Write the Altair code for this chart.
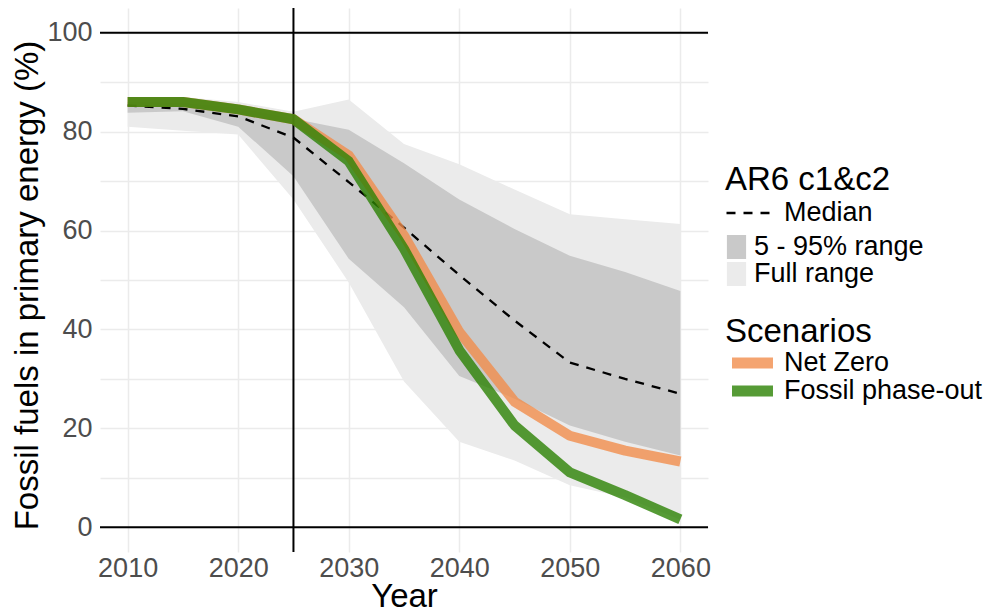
import altair as alt
import pandas as pd

# ---- data ----
years = [2010, 2015, 2020, 2025, 2030, 2035, 2040, 2045, 2050, 2055, 2060]
full_lo = [81.0, 80.2, 79.4, 66.3, 49.5, 29.5, 17.3, 13.5, 8.5, 6.0, 1.5]
full_hi = [87.0, 87.0, 86.0, 84.0, 86.5, 77.5, 73.4, 68.3, 63.3, 62.3, 61.3]
p5 = [83.8, 84.1, 81.0, 71.0, 54.3, 44.5, 30.6, 26.0, 20.6, 17.3, 14.5]
p95 = [86.0, 85.8, 84.8, 82.6, 80.4, 73.6, 66.3, 60.3, 54.9, 51.6, 47.8]
median = [85.3, 84.6, 83.1, 78.8, 69.8, 60.6, 51.0, 41.8, 33.3, 30.0, 27.0]
net_zero = [86.0, 86.0, 84.5, 82.5, 75.2, 59.0, 39.5, 25.4, 18.5, 15.5, 13.3]
phase_out = [86.0, 86.0, 84.5, 82.5, 74.0, 56.3, 35.8, 20.6, 11.1, 6.5, 1.6]
ref_levels = [0, 100]
ref_year = [2025]
x_ticks = [2010, 2020, 2030, 2040, 2050, 2060]
y_ticks = [0, 10, 20, 30, 40, 50, 60, 70, 80, 90, 100]

band_names = ["5 - 95% range", "Full range"]
band_colors = ["#C9C9C9", "#EBEBEB"]
scen_names = ["Net Zero", "Fossil phase-out"]
scen_colors = ["#F18D4C", "#2C8204"]

FONT = "Liberation Sans"

bands = pd.DataFrame({"year": years, "full_lo": full_lo, "full_hi": full_hi,
                      "p5": p5, "p95": p95, "median": median})
scen = pd.DataFrame({
    "year": years * 2,
    "value": net_zero + phase_out,
    "scenario": [scen_names[0]] * len(years) + [scen_names[1]] * len(years),
})
hl = pd.DataFrame({"level": ref_levels})
vl = pd.DataFrame({"year": ref_year})

xscale = alt.Scale(domain=[2007.5, 2062.5], nice=False, zero=False)
yscale = alt.Scale(domain=[-5, 105], nice=False, zero=False)

x_enc = alt.X("year:Q", scale=xscale, axis=alt.Axis(
    values=x_ticks, format="d", title="Year", grid=True, gridColor="#EBEBEB",
    gridWidth=1.5, ticks=False, domain=False, labelFontSize=27,
    labelColor="#4D4D4D", labelPadding=3, labelFont=FONT,
    titleFontSize=33, titleFontWeight="normal", titleColor="black",
    titleFont=FONT, titleY=54, titleBaseline="alphabetic"))

y_axis = alt.Axis(
    values=y_ticks, labelExpr="datum.value % 20 == 0 ? datum.label : ''",
    title="Fossil fuels in primary energy (%)", grid=True,
    gridColor="#EBEBEB", gridWidth=1.5, ticks=False, domain=False,
    labelFontSize=27, labelColor="#4D4D4D", labelPadding=8, labelFont=FONT,
    titleFontSize=33, titleFontWeight="normal", titleColor="black",
    titleFont=FONT, titleX=-63, titleY=277, titleAngle=270,
    titleBaseline="alphabetic", titleAlign="center")

fill_scale = alt.Scale(domain=band_names, range=band_colors)
fill_legend = alt.Legend(
    title=None, orient="none", legendX=623, legendY=225.5,
    direction="vertical", symbolType="M-0.8,-1L0.8,-1L0.8,1L-0.8,1Z",
    symbolSize=576, symbolStrokeWidth=0, labelFontSize=27, labelFont=FONT,
    labelColor="black", labelOffset=4, labelLimit=400, rowPadding=-3,
    padding=0)

base = alt.Chart(bands)

full_area = base.transform_calculate(band="'Full range'").mark_area(
    opacity=1).encode(
    x=x_enc,
    y=alt.Y("full_lo:Q", scale=yscale, axis=y_axis),
    y2="full_hi:Q",
    fill=alt.Fill("band:N", scale=fill_scale, legend=fill_legend),
)
pct_area = base.transform_calculate(band="'5 - 95% range'").mark_area(
    opacity=1).encode(
    x=alt.X("year:Q", scale=xscale),
    y=alt.Y("p5:Q", scale=yscale),
    y2="p95:Q",
    fill=alt.Fill("band:N", scale=fill_scale, legend=fill_legend),
)
band_layers = alt.layer(full_area, pct_area)

median_line = base.transform_calculate(series="'Median'").mark_line(
    color="black", strokeWidth=2.3).encode(
    x=alt.X("year:Q", scale=xscale),
    y=alt.Y("median:Q", scale=yscale),
    strokeDash=alt.StrokeDash(
        "series:N", scale=alt.Scale(domain=["Median"], range=[[9, 8]]),
        legend=alt.Legend(
            title="AR6 c1&c2", orient="none", legendX=625, legendY=156,
            direction="vertical", symbolType="stroke", symbolSize=2025,
            symbolStrokeWidth=2.3, symbolStrokeColor="black",
            labelFontSize=27, labelFont=FONT, labelColor="black",
            labelOffset=11, labelLimit=400, titleFontSize=33, titleFont=FONT,
            titleFontWeight="normal", titleColor="black", titlePadding=-8,
            padding=0)),
)

hlines = alt.Chart(hl).mark_rule(color="black", strokeWidth=2).encode(
    y=alt.Y("level:Q", scale=yscale))
vline = alt.Chart(vl).mark_rule(color="black", strokeWidth=2).encode(
    x=alt.X("year:Q", scale=xscale))

color_scale = alt.Scale(domain=scen_names, range=scen_colors)


def scen_layer(name):
    return alt.Chart(scen).transform_filter(
        alt.datum.scenario == name).mark_line(
        strokeWidth=10, opacity=0.8, strokeJoin="round").encode(
        x=alt.X("year:Q", scale=xscale),
        y=alt.Y("value:Q", scale=yscale),
        color=alt.Color("scenario:N", scale=color_scale, legend=None),
    )


# invisible points that carry the "Scenarios" key
scen_key = alt.Chart(scen).mark_point(filled=True, opacity=0).encode(
    x=alt.X("year:Q", scale=xscale),
    y=alt.Y("value:Q", scale=yscale),
    fill=alt.Fill("scenario:N",
                  scale=alt.Scale(domain=scen_names, range=scen_colors),
                  legend=alt.Legend(
                      title="Scenarios", orient="none", legendX=625,
                      legendY=307.6, direction="vertical",
                      symbolType="M-2,-0.536L2,-0.536L2,0.536L-2,0.536Z",
                      symbolSize=420, symbolStrokeWidth=0,
                      symbolOpacity=0.8, symbolOffset=14, labelFontSize=27,
                      labelFont=FONT, labelColor="black", labelOffset=18,
                      labelLimit=400, titleFontSize=33, titleFont=FONT,
                      titleFontWeight="normal", titleColor="black",
                      titlePadding=1, rowPadding=0, padding=0)),
)

chart = alt.layer(
    band_layers, median_line, hlines, vline,
    scen_layer(scen_names[0]), scen_layer(scen_names[1]), scen_key,
).resolve_scale(fill="independent").properties(
    width=608, height=544,
    autosize=alt.AutoSizeParams(type="none"),
    padding={"left": 92, "top": 0, "right": 276, "bottom": 63},
).configure(font=FONT).configure_view(strokeWidth=0)

chart.save("out.html", embed_options={"renderer": "svg", "actions": False})
